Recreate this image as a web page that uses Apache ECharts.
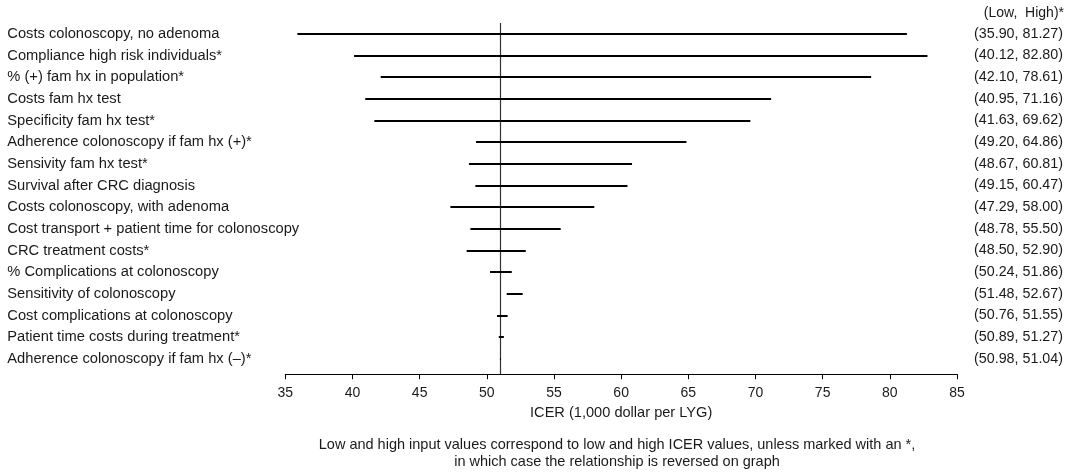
<!DOCTYPE html>
<html>
<head>
<meta charset="utf-8">
<title>One-way sensitivity analysis – ICER tornado diagram</title>
<script src="https://cdn.jsdelivr.net/npm/echarts@6/dist/echarts.min.js"></script>
<style>
  html, body { margin: 0; padding: 0; background: #fff; }
  #chart { width: 1079px; height: 475px; }
</style>
</head>
<body>
<div id="chart"></div>
<script>
// Parameters varied in the one-way sensitivity analysis (top to bottom)
const categories = [
  'Costs colonoscopy, no adenoma',
  'Compliance high risk individuals*',
  '% (+) fam hx in population*',
  'Costs fam hx test',
  'Specificity fam hx test*',
  'Adherence colonoscopy if fam hx (+)*',
  'Sensivity fam hx test*',
  'Survival after CRC diagnosis',
  'Costs colonoscopy, with adenoma',
  'Cost transport + patient time for colonoscopy',
  'CRC treatment costs*',
  '% Complications at colonoscopy',
  'Sensitivity of colonoscopy',
  'Cost complications at colonoscopy',
  'Patient time costs during treatment*',
  'Adherence colonoscopy if fam hx (\u2013)*'
];

// ICER (1,000 dollar per LYG) at the low and high input value
const lowIcer  = [35.90, 40.12, 42.10, 40.95, 41.63, 49.20, 48.67, 49.15, 47.29, 48.78, 48.50, 50.24, 51.48, 50.76, 50.89, 50.98];
const highIcer = [81.27, 82.80, 78.61, 71.16, 69.62, 64.86, 60.81, 60.47, 58.00, 55.50, 52.90, 51.86, 52.67, 51.55, 51.27, 51.04];

// Base-case ICER
const baseIcer = 51.0;

// X axis range and tick step
const xMin = 35;
const xMax = 85;
const xStep = 5;

const rangeHeader = '(Low,  High)*';
const axisTitle = 'ICER (1,000 dollar per LYG)';
const footnote = [
  'Low and high input values correspond to low and high ICER values, unless marked with an *,',
  'in which case the relationship is reversed on graph'
];

const FONT = '"Liberation Sans", Arial, Helvetica, sans-serif';
const TEXT = '#1a1a1a';
const AXIS_OFFSET = 4.5;

const chart = echarts.init(document.getElementById('chart'), null, { renderer: 'canvas' });

const barData = categories.map((c, i) => [i, lowIcer[i], highIcer[i]]);

chart.setOption({
  animation: false,
  backgroundColor: '#fff',
  grid: { left: 285.3, right: 122, top: 23, bottom: 105.3, containLabel: false },
  xAxis: {
    type: 'value',
    min: xMin,
    max: xMax,
    interval: xStep,
    offset: AXIS_OFFSET,
    splitLine: { show: false },
    axisLine: { show: true, lineStyle: { color: '#000', width: 1 } },
    axisTick: { show: true, length: 5, lineStyle: { color: '#000', width: 1 } },
    axisLabel: { color: TEXT, fontFamily: FONT, fontSize: 14, margin: 12 },
    name: axisTitle,
    nameLocation: 'middle',
    nameGap: 30,
    nameTextStyle: { color: TEXT, fontFamily: FONT, fontSize: 14.6 }
  },
  yAxis: [
    {
      type: 'category',
      data: categories,
      inverse: true,
      axisLine: { show: false },
      axisTick: { show: false },
      splitLine: { show: false },
      axisLabel: {
        color: TEXT, fontFamily: FONT, fontSize: 14.7,
        align: 'left', margin: 278, interval: 0
      }
    },
    {
      type: 'category',
      data: categories,
      inverse: true,
      position: 'right',
      axisLine: { show: false },
      axisTick: { show: false },
      splitLine: { show: false },
      axisLabel: {
        color: TEXT, fontFamily: FONT, fontSize: 14.3,
        align: 'left', margin: 17, interval: 0,
        formatter: (v, i) => '(' + lowIcer[i].toFixed(2) + ', ' + highIcer[i].toFixed(2) + ')'
      }
    }
  ],
  graphic: [
    {
      type: 'text', right: 15, top: 6,
      style: { text: rangeHeader, fill: TEXT, font: '14px ' + FONT }
    },
    {
      type: 'text', x: 617, y: 436,
      style: {
        text: footnote.join('\n'), fill: TEXT, font: '14.5px ' + FONT,
        align: 'center', lineHeight: 17.5
      }
    }
  ],
  series: [
    {
      // base-case reference line, running down to the offset x axis
      type: 'custom',
      data: [[baseIcer]],
      encode: { x: 0 },
      silent: true,
      z: 1,
      renderItem: (params, api) => {
        const cs = params.coordSys;
        const x = Math.round(api.coord([api.value(0), 0])[0]) + 0.5;
        return {
          type: 'line',
          shape: { x1: x, y1: cs.y, x2: x, y2: cs.y + cs.height + AXIS_OFFSET },
          style: { stroke: '#333', lineWidth: 1.2 }
        };
      }
    },
    {
      // tornado bars: ICER range from low to high input value
      type: 'custom',
      data: barData,
      encode: { y: 0, x: [1, 2] },
      silent: true,
      z: 2,
      renderItem: (params, api) => {
        const row = api.value(0);
        const a = api.coord([api.value(1), row]);
        const b = api.coord([api.value(2), row]);
        const y = Math.round(a[1]);
        return {
          type: 'line',
          shape: { x1: a[0], y1: y, x2: b[0], y2: y },
          style: { stroke: '#000', lineWidth: 2 }
        };
      }
    }
  ]
});
</script>
</body>
</html>
